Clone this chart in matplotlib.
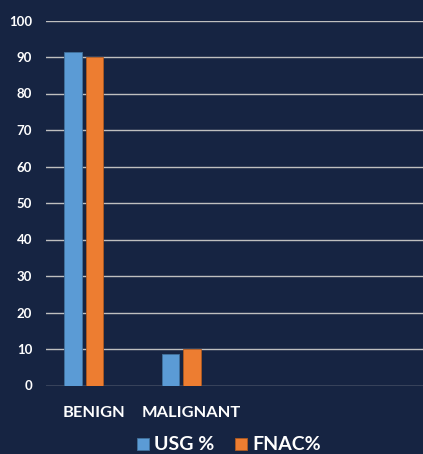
import matplotlib.pyplot as plt
import numpy as np

categories = ['BENIGN', 'MALIGNANT']
usg = [91.3, 8.5]
fnac = [90, 10]
yticks = [0, 10, 20, 30, 40, 50, 60, 70, 80, 90, 100]

bg = '#162442'
plt.rcParams['font.family'] = ['Lato', 'DejaVu Sans']

fig = plt.figure(figsize=(4.23, 4.54), dpi=100, facecolor=bg)
ax = fig.add_axes([46 / 423, 68.5 / 454, 1 - 46 / 423, 365 / 454], facecolor=bg)

# excel-style cluster with room for a third (empty) slot
x = np.arange(len(categories))
w = 0.178
ax.bar(x - 0.215, usg, width=w, color='#5b9bd5', edgecolor='#41719c', linewidth=0.6, label='USG %', zorder=3)
ax.bar(x + 0.005, fnac, width=w, color='#ed7d31', edgecolor='#ae5a21', linewidth=0.6, label='FNAC%', zorder=3)

ax.set_xlim(-0.491, 3.367)
ax.set_ylim(0, 100)
ax.set_yticks(yticks)
ax.set_xticks(x)
ax.set_xticklabels(categories, color='white', fontsize=11.8, fontweight='bold')
ax.tick_params(axis='y', colors='white', labelsize=9.5, length=0, pad=10)
ax.tick_params(axis='x', length=0, pad=15)
for lbl in ax.get_yticklabels():
    lbl.set_fontweight('bold')
ax.yaxis.grid(True, color='#bfbfbf', linewidth=1)
ax.set_axisbelow(True)
for s in ax.spines.values():
    s.set_visible(False)

fig.legend(loc='center', bbox_to_anchor=(229 / 423, 9 / 454), ncol=2, frameon=False,
           prop={'weight': 'bold', 'size': 14}, labelcolor='white',
           handlelength=0.59, handleheight=0.59, handletextpad=0.27, columnspacing=1.07,
           borderpad=0)

fig.savefig('out.png', dpi=100, facecolor=bg)
